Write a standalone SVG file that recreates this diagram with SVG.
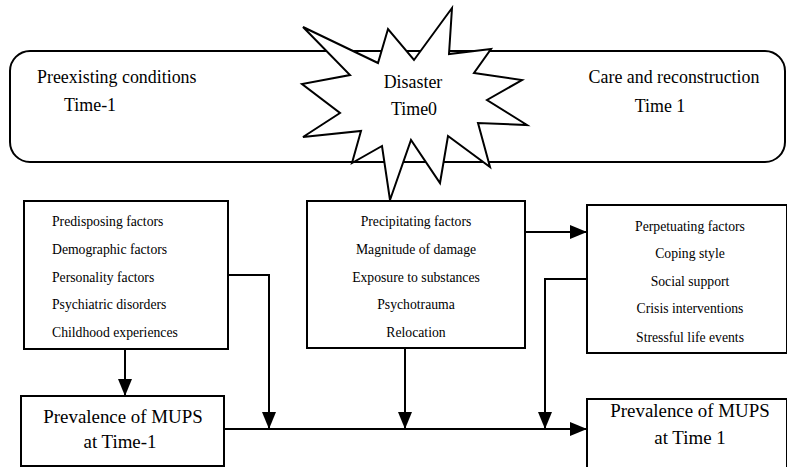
<svg xmlns="http://www.w3.org/2000/svg" width="787" height="467" viewBox="0 0 787 467" font-family="'Liberation Serif', 'DejaVu Serif', serif">
  <style>
    text { font-family: "Liberation Serif", "DejaVu Serif", serif; fill: #000; }
    .box { fill: #fff; stroke: #000; stroke-width: 2; }
    .item { font-size: 13.7px; }
    .head { font-size: 17.9px; }
    .big { font-size: 18.9px; }
    .wire { fill: none; stroke: #000; stroke-width: 2; }
  </style>
  <defs>
    <marker id="arrow" viewBox="0 0 17 14" refX="17" refY="7" markerWidth="17" markerHeight="14" markerUnits="userSpaceOnUse" orient="auto">
      <path d="M0,0 L17,7 L0,14 Z" fill="#000"/>
    </marker>
  </defs>

  <!-- timeline band -->
  <g id="timeline">
    <rect class="box" x="10" y="51" width="775" height="111" rx="20" ry="20"/>
    <text class="head" x="37" y="83">Preexisting conditions</text>
    <text class="head" x="64" y="111">Time-1</text>
    <text class="head" x="674" y="83" text-anchor="middle">Care and reconstruction</text>
    <text class="head" x="660" y="112" text-anchor="middle">Time 1</text>
  </g>

  <!-- disaster burst -->
  <g id="disaster">
    <polygon class="box" stroke-width="1.8" stroke-linejoin="miter"
      points="452,8 449,54 491,49 474,73 522,80 487,100 527,125 478,123 490,167 448,136 440,183 411,140 390,200 382,146 352,163 361,131 303,137 340,113 302,84 350,75 303,27 378,63 388,29 414,60"/>
    <text class="head" x="413" y="88" text-anchor="middle">Disaster</text>
    <text class="head" x="414" y="115" text-anchor="middle">Time0</text>
  </g>

  <!-- predisposing factors -->
  <g id="predisposing">
    <rect class="box" x="24" y="201" width="204" height="148"/>
    <text class="item" x="52" y="226">Predisposing factors</text>
    <text class="item" x="52" y="254">Demographic factors</text>
    <text class="item" x="52" y="282">Personality factors</text>
    <text class="item" x="52" y="309">Psychiatric disorders</text>
    <text class="item" x="52" y="337">Childhood experiences</text>
  </g>

  <!-- precipitating factors -->
  <g id="precipitating">
    <rect class="box" x="307" y="201" width="218" height="147"/>
    <text class="item" x="416" y="226" text-anchor="middle">Precipitating factors</text>
    <text class="item" x="416" y="254" text-anchor="middle">Magnitude of damage</text>
    <text class="item" x="416" y="282" text-anchor="middle">Exposure to substances</text>
    <text class="item" x="416" y="309" text-anchor="middle">Psychotrauma</text>
    <text class="item" x="416" y="337" text-anchor="middle">Relocation</text>
  </g>

  <!-- perpetuating factors -->
  <g id="perpetuating">
    <rect class="box" x="587" y="205" width="200" height="148"/>
    <text class="item" x="690" y="231" text-anchor="middle">Perpetuating factors</text>
    <text class="item" x="690" y="258" text-anchor="middle">Coping style</text>
    <text class="item" x="690" y="286" text-anchor="middle">Social support</text>
    <text class="item" x="690" y="313" text-anchor="middle">Crisis interventions</text>
    <text class="item" x="690" y="342" text-anchor="middle">Stressful life events</text>
  </g>

  <!-- prevalence before -->
  <g id="prevalence-before">
    <rect class="box" x="21" y="396" width="203" height="70"/>
    <text class="big" x="123" y="423" text-anchor="middle">Prevalence of MUPS</text>
    <text class="big" x="120" y="448" text-anchor="middle">at Time-1</text>
  </g>

  <!-- prevalence after -->
  <g id="prevalence-after">
    <rect class="box" x="587" y="399" width="200" height="70"/>
    <text class="big" x="690" y="417" text-anchor="middle">Prevalence of MUPS</text>
    <text class="big" x="690" y="444" text-anchor="middle">at Time 1</text>
  </g>

  <!-- connectors -->
  <g id="connectors">
    <path class="wire" d="M125,349 V396" marker-end="url(#arrow)"/>
    <path class="wire" d="M228,275 H269 V429" marker-end="url(#arrow)"/>
    <path class="wire" d="M224,429 H587" marker-end="url(#arrow)"/>
    <path class="wire" d="M405,348 V429" marker-end="url(#arrow)"/>
    <path class="wire" d="M587,279 H545 V429" marker-end="url(#arrow)"/>
    <path class="wire" d="M525,232 H587" marker-end="url(#arrow)"/>
  </g>
</svg>
